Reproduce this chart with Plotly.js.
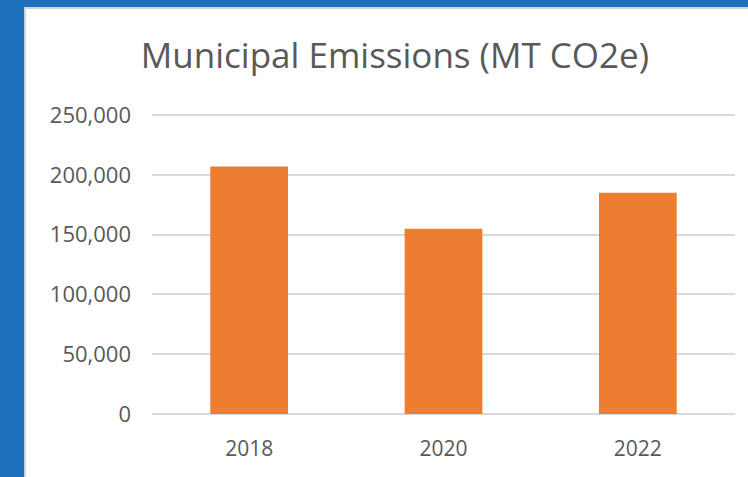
<!DOCTYPE html>
<html>
<head>
<meta charset="utf-8">
<script src="https://cdn.plot.ly/plotly-3.0.1.min.js"></script>
<style>
  html, body { margin:0; padding:0; width:748px; height:477px; overflow:hidden; background:#1E72BD; }
  #frame { position:absolute; left:24px; top:7px; width:724px; height:470px; background:#d4d4d4; }
  #chart { position:absolute; left:26px; top:9px; width:722px; height:468px; background:#ffffff; }
</style>
</head>
<body>
<div id="frame"></div>
<div id="chart"></div>
<script>
const chartTitle = "Municipal Emissions (MT CO2e)";
const years = ["2018", "2020", "2022"];
const emissions = [207000, 155000, 185000];
const yTickValues = [0, 50000, 100000, 150000, 200000, 250000];
const yTickLabels = ["0", "50,000", "100,000", "150,000", "200,000", "250,000"];

const textColor = "#595959";
const fontFamily = "'Open Sans', 'Noto Sans', sans-serif";

Plotly.newPlot("chart", [{
  type: "bar",
  x: years,
  y: emissions,
  marker: { color: "#ED7D31", line: { width: 0 } },
  hoverinfo: "skip"
}], {
  width: 722,
  height: 468,
  margin: { l: 126, r: 13, t: 104, b: 63 },
  paper_bgcolor: "#ffffff",
  plot_bgcolor: "#ffffff",
  bargap: 0.6,
  showlegend: false,
  title: {
    text: chartTitle,
    font: { family: fontFamily, size: 35, color: textColor },
    xref: "container", x: 0.511, xanchor: "center",
    yref: "container", y: 0.9, yanchor: "middle"
  },
  xaxis: {
    type: "category",
    showgrid: false,
    showline: false,
    zeroline: false,
    ticks: "",
    ticklabelstandoff: 20,
    tickfont: { family: fontFamily, size: 21, color: textColor }
  },
  yaxis: {
    range: [0, 251700],
    tickvals: yTickValues,
    ticktext: yTickLabels,
    showgrid: true,
    gridcolor: "#d9d9d9",
    gridwidth: 2,
    zeroline: true,
    zerolinecolor: "#d9d9d9",
    zerolinewidth: 2,
    showline: false,
    ticks: "",
    ticklabelstandoff: 20,
    tickfont: { family: fontFamily, size: 22, color: textColor }
  }
}, { displayModeBar: false, staticPlot: true });
</script>
</body>
</html>
